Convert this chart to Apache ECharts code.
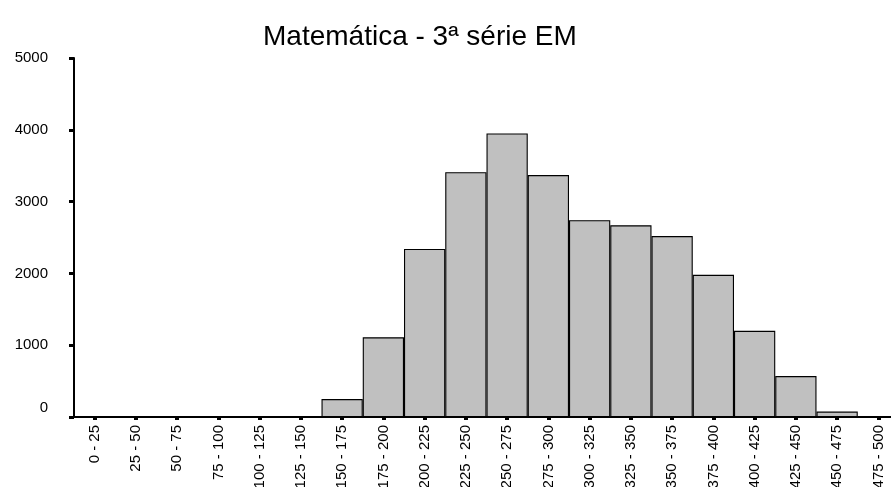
<!DOCTYPE html>
<html>
<head>
<meta charset="utf-8">
<script src="https://cdn.jsdelivr.net/npm/echarts@6/dist/echarts.min.js"></script>
<style>
  html, body { margin: 0; padding: 0; background: #fff; }
  #chart { width: 891px; height: 487px; }
</style>
</head>
<body>
<div id="chart"></div>
<script>
// Score bands (proficiency scale) and number of students in each band
const scoreBands = [
  '0 - 25', '25 - 50', '50 - 75', '75 - 100', '100 - 125', '125 - 150',
  '150 - 175', '175 - 200', '200 - 225', '225 - 250', '250 - 275', '275 - 300',
  '300 - 325', '325 - 350', '350 - 375', '375 - 400', '400 - 425', '425 - 450',
  '450 - 475', '475 - 500'
];
const studentCounts = [
  0, 0, 0, 0, 0, 0,
  250, 1110, 2340, 3410, 3950, 3370,
  2740, 2670, 2520, 1980, 1200, 570,
  75, 0
];
const yTicks = [0, 1000, 2000, 3000, 4000, 5000];

const chart = echarts.init(document.getElementById('chart'), null, { renderer: 'canvas' });

const font = 'Liberation Sans, Arial, Helvetica, sans-serif';

chart.setOption({
  animation: false,
  backgroundColor: '#ffffff',
  title: {
    text: 'Matemática - 3ª série EM',
    left: 258,
    top: 18,
    textStyle: { fontFamily: font, fontSize: 28, fontWeight: 'normal', color: '#000' }
  },
  // the last band runs a little past the right edge of the canvas
  grid: { left: 74, width: 825, top: 58, height: 359, containLabel: false, outerBoundsMode: 'none' },
  xAxis: {
    type: 'category',
    data: scoreBands,
    boundaryGap: true,
    axisLine: { show: true, lineStyle: { color: '#000', width: 2 } },
    axisTick: { show: true, alignWithLabel: true, length: 3, lineStyle: { color: '#000', width: 4 } },
    axisLabel: {
      rotate: 90,
      margin: 8,
      interval: 0,
      fontFamily: font,
      fontSize: 15,
      color: '#000'
    },
    splitLine: { show: false }
  },
  yAxis: {
    type: 'value',
    min: yTicks[0],
    max: yTicks[yTicks.length - 1],
    interval: yTicks[1] - yTicks[0],
    axisLine: { show: true, lineStyle: { color: '#000', width: 2 } },
    axisTick: { show: true, length: 5, lineStyle: { color: '#000', width: 3 } },
    axisLabel: {
      margin: 26,
      fontFamily: font,
      fontSize: 15,
      color: '#000',
      formatter: function (v) { return v === 0 ? '{z|0}' : String(v); },
      rich: { z: { fontFamily: font, fontSize: 15, color: '#000', padding: [0, 0, 18, 0] } }
    },
    splitLine: { show: false }
  },
  series: [{
    type: 'bar',
    data: studentCounts,
    barCategoryGap: '0%',
    // neighbouring bars share one dark edge
    itemStyle: { color: '#c0c0c0', borderColor: '#000', borderWidth: 1.1 }
  }]
});
</script>
</body>
</html>
